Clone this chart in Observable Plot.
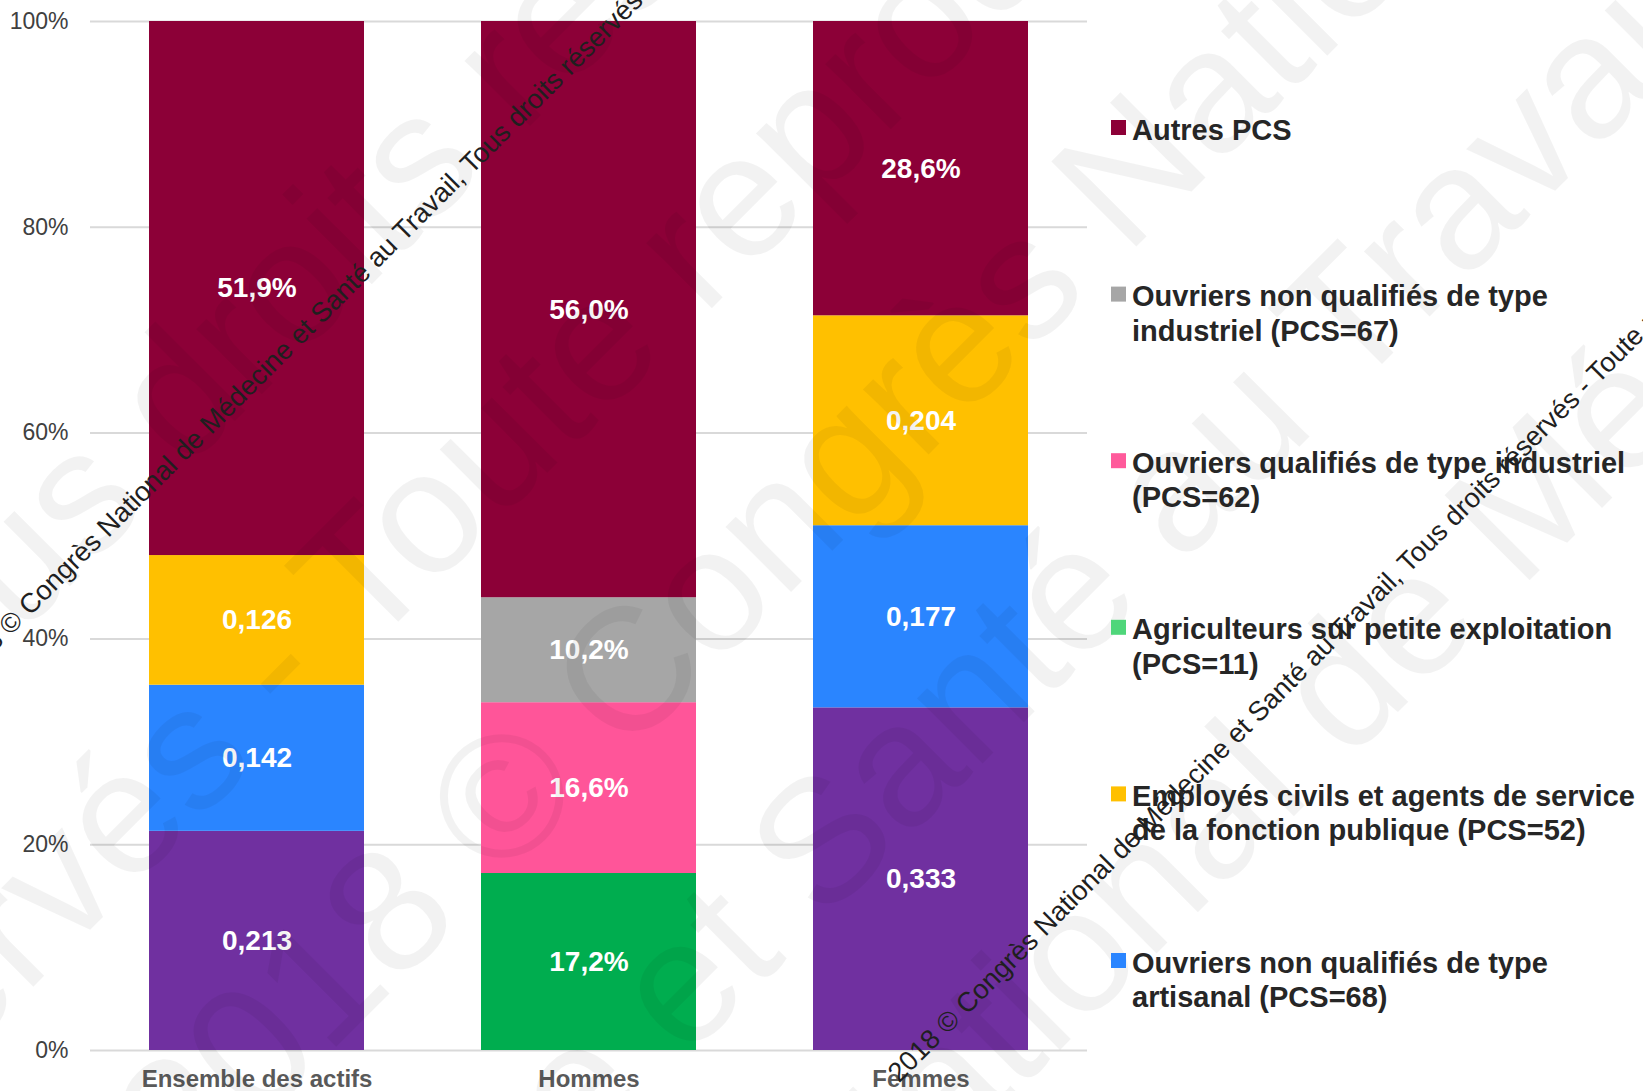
<!DOCTYPE html>
<html><head><meta charset="utf-8">
<script src="https://cdn.jsdelivr.net/npm/d3@7"></script>
<script src="https://cdn.jsdelivr.net/npm/@observablehq/plot@0.6"></script>
<style>
html,body{margin:0;padding:0;background:#fff;}
#chart{position:relative;width:1643px;height:1091px;overflow:hidden;}
#chart svg{overflow:hidden;display:block;}
</style></head><body><div id="chart"></div>
<script>
// ---- data ----
const groups = ["Ensemble des actifs", "Hommes", "Femmes"];
const seriesNames = [
  "Catégorie (légende hors cadre)",
  "Ouvriers non qualifiés de type artisanal (PCS=68)",
  "Employés civils et agents de service de la fonction publique (PCS=52)",
  "Agriculteurs sur petite exploitation (PCS=11)",
  "Ouvriers qualifiés de type industriel (PCS=62)",
  "Ouvriers non qualifiés de type industriel (PCS=67)",
  "Autres PCS"
];
const barColors = ["#7030a0", "#2a85ff", "#ffc000", "#00ad4f", "#ff5599", "#a6a6a6", "#8c0037"];
const ensembleValues = [0.213, 0.142, 0.126, 0, 0, 0, 0.519];
const hommesValues   = [0, 0, 0, 0.172, 0.166, 0.102, 0.560];
const femmesValues   = [0.333, 0.177, 0.204, 0, 0, 0, 0.286];
const ensembleLabels = ["0,213", "0,142", "0,126", "", "", "", "51,9%"];
const hommesLabels   = ["", "", "", "17,2%", "16,6%", "10,2%", "56,0%"];
const femmesLabels   = ["0,333", "0,177", "0,204", "", "", "", "28,6%"];
const yTicks = [0, 0.2, 0.4, 0.6, 0.8, 1];
const yTickLabels = ["0%", "20%", "40%", "60%", "80%", "100%"];

const legendItems = [
  {color: "#8c0037", lines: ["Autres PCS"]},
  {color: "#a6a6a6", lines: ["Ouvriers non qualifiés de type", "industriel (PCS=67)"]},
  {color: "#ff5a9b", lines: ["Ouvriers qualifiés de type industriel", "(PCS=62)"]},
  {color: "#4fd67a", lines: ["Agriculteurs sur petite exploitation", "(PCS=11)"]},
  {color: "#ffc000", lines: ["Employés civils et agents de service", "de la fonction publique (PCS=52)"]},
  {color: "#2a85ff", lines: ["Ouvriers non qualifiés de type", "artisanal (PCS=68)"]}
];
const watermarkText = "2018 © Congrès National de Médecine et Santé au Travail, Tous droits réservés - Toute reproduction interdite";
const bigWatermarkLines = [
  "Santé au Travail, Tous droits réservés",
  "réservés - Toute reproduction interdite",
  "2018 © Congrès National de Médecine",
  "de Médecine et Santé au Travail, Tous droits",
  "Congrès National de Médecine et Santé"
];
const bigWatermarkAnchors = [[-1072, 1728], [-216, 1236], [189, 1194], [-58, 1804], [357, 1753]];

// ---- build table ----
const allValues = [ensembleValues, hommesValues, femmesValues];
const allLabels = [ensembleLabels, hommesLabels, femmesLabels];
const rows = [];
groups.forEach((g, gi) => seriesNames.forEach((s, si) => {
  const v = allValues[gi][si];
  if (v > 0) rows.push({group: g, series: s, value: v, label: allLabels[gi][si]});
}));

const FONT = "'Liberation Sans', Arial, Helvetica, sans-serif";

const plot = Plot.plot({
  width: 1643, height: 1091,
  marginLeft: 90, marginRight: 556, marginTop: 21, marginBottom: 41,
  style: {fontFamily: FONT, background: "#fff"},
  x: {domain: groups, paddingInner: 0.353, paddingOuter: 0.1765, label: null},
  y: {domain: [0, 1], label: null},
  color: {domain: seriesNames, range: barColors},
  marks: [
    Plot.ruleY(yTicks, {stroke: "#d9d9d9", strokeWidth: 2}),
    Plot.barY(rows, Plot.stackY({x: "group", y: "value", fill: "series", order: seriesNames})),
    Plot.text(rows, Plot.stackY({x: "group", y: "value", z: "series", text: "label", order: seriesNames,
      fill: "white", fontSize: 28, fontWeight: "bold"})),
    Plot.axisY({ticks: yTicks, tickFormat: d => yTickLabels[yTicks.indexOf(d)], tickSize: 0, tickPadding: 22,
      fontSize: 23, color: "#404040"}),
    Plot.axisX({tickSize: 0, tickPadding: 19, fontSize: 24, fontWeight: "bold", color: "#595959"})
  ]
});
document.getElementById("chart").appendChild(plot);
const svg = d3.select(plot);

// ---- faint large watermark ----
const bw = svg.append("g").attr("font-family", FONT).attr("font-size", 175).attr("fill", "#000")
  .attr("fill-opacity", 0.05).attr("text-anchor", "start");
bigWatermarkAnchors.forEach(([x, y], i) => {
  bw.append("text").attr("text-anchor", "start").attr("transform", `translate(${x},${y}) rotate(-45)`).text(bigWatermarkLines[i]);
});

// ---- legend (right side) ----
const lg = svg.append("g").attr("font-family", FONT).attr("font-weight", "bold").attr("font-size", 29)
  .attr("fill", "#262626").attr("text-anchor", "start");
legendItems.forEach((item, i) => {
  const base = 139.5 + 166.6 * i;
  lg.append("rect").attr("x", 1111).attr("y", base - 19.5).attr("width", 15).attr("height", 15).attr("fill", item.color);
  item.lines.forEach((ln, j) => {
    lg.append("text").attr("x", 1132).attr("y", base + j * 34.5).attr("text-anchor", "start").text(ln);
  });
});

// ---- watermark lines ----
const wm = svg.append("g").attr("font-family", FONT).attr("font-size", 27.3).attr("fill", "#1f1f1f")
  .attr("text-anchor", "start");
[[-38, 684.5], [899, 1083.5]].forEach(([x, y]) => {
  wm.append("text").attr("text-anchor", "start").attr("transform", `translate(${x},${y}) rotate(-45)`).text(watermarkText);
});
</script></body></html>
